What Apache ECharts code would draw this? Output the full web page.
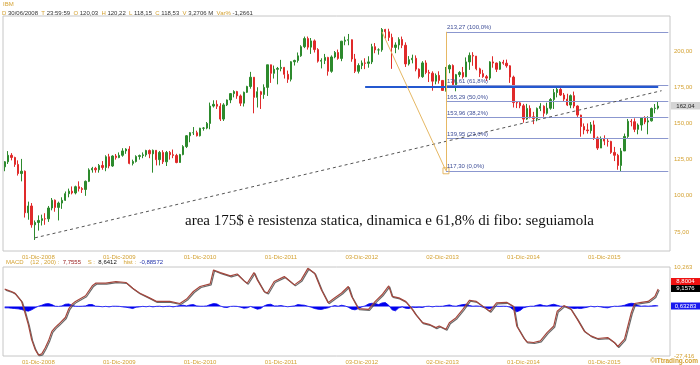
<!DOCTYPE html>
<html><head><meta charset="utf-8">
<script src="https://cdn.jsdelivr.net/npm/echarts@6/dist/echarts.min.js"></script>
<style>html,body{margin:0;padding:0;background:#fff}#c{width:700px;height:365px}</style>
</head><body><div id="c"></div>
<script>
// ---------- DATA ----------
// semi-monthly candles [open, close, low, high], first bar starts 30/06/2008
const ohlc2008 = [
[120,123.5,117,124],[123.5,128,122,130.9],[128,126.5,124.5,129.5],[126.5,121.7,120,127],
[121.7,115.4,114,124.5],[115.4,117,110,125.5],[117,88.3,85,117.5],[88.3,93,83.5,96],
[93,80,78,95],[80,81.6,69.5,83],[81.6,83,76,86.5],[83,84.2,79.5,87]];
const ohlc2009 = [
[84.2,84.1,80,88],[84.1,91.6,82,93],[91.6,97,90,98.5],[97,92,89,97.5],
[92,95,83,96],[95,96.9,91,99],[96.9,101.5,96.5,103],[101.5,103.2,99,105],
[103.2,102,101,106.5],[102,106.3,101,107],[106.3,105,103,110],[105,104.4,102,106],
[104.4,110,100,110.6],[110,117.9,109.5,119],[117.9,119,116,120],[119,118,116,120],
[118,121,116,122],[121,119.6,118,124],[119.6,127,117,128],[127,120.6,119,129],
[120.6,127.5,120,128],[127.5,126.4,125,128.9],[126.4,128,126,130],[128,131,127,132.9]];
const ohlc2010 = [
[131,132.3,129,132.9],[132.3,122.4,121.8,134.3],[122.4,123.7,121,125],[123.7,127.2,123,128],
[127.2,127.8,125,128.5],[127.8,128.3,126,130],[128.3,131.3,127,131.8],[131.3,129,126,132],
[129,131.4,116,132],[131.4,125,121,131.5],[125,130,121,131],[130,123.5,122,131.5],
[123.5,130,120.6,131],[130,128.4,125,131],[128.4,127.9,126,132],[127.9,123,122.5,129],
[123,128.5,123,129],[128.5,134,128,135],[134,141.5,133,142],[141.5,143.6,137,144],
[143.6,143.6,142,147.5],[143.6,141.5,141,145],[141.5,146.7,141,147],[146.7,146.8,145,147.5]];
const ohlc2011 = [
[146.8,150,146,151],[150,162,146,164.4],[162,163.2,161,166],[163.2,161.9,160,166],
[161.9,153,151.7,164],[153,162.8,151.7,164],[162.8,166.2,162,166.5],[166.2,170.6,164,171],
[170.6,172,168,172.9],[172,169,167,172.5],[169,164,162,170],[164,171.5,161.7,172],
[171.5,175.5,171,176],[175.5,181.9,174,185.6],[181.9,168,157,182],[168,171.9,161,175],
[171.9,170,160,172.5],[170,174.9,167,177],[174.9,190.5,169,190.5],[190.5,184.6,178,190.6],
[184.6,187.4,181,190],[187.4,188,177,189],[188,188.7,186,193.9],[188.7,183.9,181,189]];
const ohlc2012 = [
[183.9,180.5,178,186.5],[180.5,192.6,179,193],[192.6,193.5,190,194],[193.5,196.7,192,199],
[196.7,203,196,204],[203,208.6,202,210],[208.6,202.7,201,210],[202.7,207,198,209],
[207,201,199,208],[201,193,192,202],[193,193.5,188,195],[193.5,195.6,191,198],
[195.6,186,183,196],[186,195.9,185,197],[195.9,199,195,200],[199,194.9,194,201],
[194.9,206.8,193,207],[206.8,207.5,204,210],[207.5,207.8,204,211.8],[207.8,194.5,192.6,208],
[194.5,186,184.8,198],[186,190,184.5,191.5],[190,191.8,187.5,193.5],[191.8,191.5,187.5,195]];
const ohlc2013 = [
[191.5,192.5,188.5,196.4],[192.5,203,191,205],[203,200.8,198.5,205.5],[200.8,200.8,197.5,201.9],
[200.8,214.9,199.5,215.9],[214.9,213.3,208.6,215.3],[213.3,209.4,207,215.4],[209.4,202.5,187.7,212],
[202.5,204.2,198.5,206],[204.2,208,201,209.5],[208,204,202,210],[204,191.1,189,206],
[191.1,194,190,196.5],[194,195,191.5,197.5],[195,187.5,186,197],[187.5,182.3,181,188],
[182.3,191.8,181.5,193],[191.8,185.2,184,193.6],[185.2,184.7,178.6,187],[184.7,179.2,172.6,186],
[179.2,183.2,177,184.5],[183.2,179.7,177.5,186],[179.7,172.8,172.6,180],[172.8,187.6,172,189]];
const ohlc2014 = [
[187.6,190,184.7,190.8],[190,176.7,175.5,190.8],[176.7,183.7,172.2,184.2],[183.7,185.2,182,186.1],
[185.2,182.2,181,189],[182.2,192.5,182,195.6],[192.5,197,187,199],[197,196.5,189.8,199.2],
[196.5,187.7,186.7,196.5],[187.7,184.4,182,188.5],[184.4,182.3,181.5,187],[182.3,181.3,179.3,183.5],
[181.3,192.5,180,193],[192.5,191.7,188.5,196.4],[191.7,187.4,185.5,192],[187.4,192.3,187,193],
[192.3,191.6,190.5,193.9],[191.6,189.8,188.5,194.1],[189.8,182,178,190.2],[182,164.4,161,183],
[164.4,164.2,160.6,165.5],[164.2,162.2,160.5,165],[162.2,153,150.5,163.5],[153,160.4,152.5,163.5]];
const ohlc2015 = [
[160.4,154.6,153.5,162.5],[154.6,153.3,149.5,158],[153.3,160.4,151.5,161],[160.4,161.9,158.5,164],
[161.9,157,154.6,162.5],[157,160.5,156,164.3],[160.5,166.5,159.5,167.5],[166.5,171.3,160,173.8],
[171.3,173.5,168,176.3],[173.5,169.6,169,174.4],[169.6,166.8,165.5,171],[166.8,162.7,162,170.5],
[162.7,169.2,160.5,170],[169.2,162,160.5,172],[162,155.8,154.5,162.5],[155.8,147.9,140.8,156],
[147.9,145.5,142.5,150],[145.5,145,143,150],[145,149,143,151],[149,140,138.6,152],
[140,133,131.7,141],[133,139.4,133,141],[139.4,137.8,135,141.8],[137.8,137.6,134,139.8]];
const ohlc2016 = [
[137.6,130,129,138],[130,128,124,133.8],[128,121,118,129],[121,131,116.9,133],
[131,141,131,143],[141,151.5,140,153.1],[151.5,151.2,148,153],[151.2,145.9,144,153.5],
[145.9,148.9,142.5,150],[148.9,153.7,145,154],[153.7,151,149.5,155],[151,151.8,142.5,155],
[151.8,160.3,151.3,161],[160.3,160.6,157,163.4],[160.6,162,159.6,164.9]];

// MACD (12,200) line: [bar index, value]
const macdPoints = [
[0,0.9],[2,-0.1],[3,-0.8],[5,-4.3],[6,-9.0],[7,-14],[8,-20.5],[9,-24.5],[10,-27.0],[11,-26.5],
[12,-24],[13,-21],[14,-17],[15,-15.3],[16,-14.0],[18,-11.1],[19,-7.5],[20,-5.5],[21,-4.3],[24,-1.9],
[26,2.3],[27,3.4],[30,3.4],[33,4.1],[36,3.7],[38,1.3],[40,-0.75],[43,-2.8],[45,-4.3],[49,-4.3],
[52,-5.2],[54,-3.3],[56,-0.1],[58,2.0],[61,3.1],[62,9.0],[64,7.9],[67,6.5],[69,7.3],[71,4.5],
[72,3.4],[74,7.9],[75,4.8],[77,-0.1],[78,-0.75],[80,4.1],[83,6.2],[84,5.1],[86,2.7],[88,4.8],
[90,9.7],[92,7.6],[94,0.6],[96,-4.9],[98,-2.8],[100,-0.75],[102,2.0],[103,-2.2],[105,-7.4],[108,-7.7],
[110,-4.3],[112,-1.5],[114,2.3],[115,-2.2],[117,-2.8],[119,-4.3],[121,-7.7],[122,-9.8],[124,-13.3],[126,-14.0],
[128,-15.4],[129,-14.7],[131,-16.1],[132,-13.3],[134,-11.2],[136,-7.7],[138,-3.8],[140,-4.3],[142,-6.4],[144,-8.5],
[146,-4.9],[149,-4.7],[151,-6.4],[152,-14.7],[154,-19.6],[155,-21.4],[157,-21.7],[159,-21.0],[161,-17.5],[163,-14.7],
[164,-8.5],[166,-6.1],[168,-7.4],[170,-11.9],[172,-16.8],[174,-18.9],[176,-20.0],[179,-19.6],[181,-21.7],[182,-23.4],
[184,-20.3],[186,-9.1],[187,-5.2],[189,-4.7],[191,-4.3],[193,-2.2],[194,0.9]];

// MACD histogram, one value per bar
const histValues = [
-0.2,-0.2,-0.25,-0.3,-0.35,-0.45,-0.6,-0.7,-0.5,-0.2,
0.05,0.2,0.4,0.45,0.3,0.05,0.02,0.1,0.35,0.4,
0.2,0.05,0.03,0.05,0.1,0.3,0.3,0.05,0.03,-0.03,
0.03,-0.05,0.05,0.05,0.03,-0.05,-0.1,-0.2,-0.3,-0.1,
-0.05,0.03,-0.03,0.05,-0.05,0.03,0.05,-0.03,0.03,0.05,
-0.05,0.05,0.15,0.2,0.1,0.25,0.3,0.1,0.05,0.05,
0.1,0.3,0.45,0.4,0.1,-0.1,-0.15,0.02,0.05,0.03,
-0.1,-0.25,-0.2,0.02,-0.2,-0.4,-0.3,0.1,0.3,0.35,
0.1,0.1,0.15,0.05,-0.03,0.03,0.1,0.3,0.25,0.2,
0.05,-0.1,-0.3,-0.4,-0.45,-0.3,-0.2,0.02,0.15,0.05,
0.2,0.1,-0.1,-0.4,-0.5,-0.3,-0.05,0.1,0.4,0.5,
0.45,0.3,0.55,0.6,0.2,-0.5,-0.65,-0.2,-0.05,-0.25,
-0.3,-0.1,-0.15,-0.1,-0.15,0.02,0.05,-0.05,0.05,0.03,
0.05,0.15,0.25,0.1,0.05,0.2,0.3,0.35,0.15,0.05,
0.1,0.05,-0.1,-0.25,-0.3,-0.1,0.05,0.03,0.05,0.03,
-0.1,-0.5,-0.8,-0.6,-0.2,-0.05,0.05,0.05,0.2,0.3,
0.15,0.1,0.25,0.35,0.2,0.05,0.02,-0.1,-0.2,-0.3,
-0.25,-0.3,-0.2,-0.1,0.05,-0.05,0.03,-0.05,-0.15,-0.2,
-0.05,0.05,0.03,0.1,0.2,0.4,0.5,0.45,0.15,0.05,
0.1,0.05,0.1,0.15,0.1];

// axis labels
const priceTicks = [75,100,125,150,175,200];
const macdTicks = [-27.416,10.263];
const tickDates = ['01/12/2008','01/12/2009','01/12/2010','01/12/2011','01/12/2012','01/12/2013','01/12/2014','01/12/2015'];
const tickLabels = ['01-Dic-2008','01-Dic-2009','01-Dic-2010','01-Dic-2011','03-Dic-2012','02-Dic-2013','01-Dic-2014','01-Dic-2015'];

// Fibonacci retracement (bar index anchors, price levels)
const fibLevels = [213.27,176.61,165.29,153.96,139.95,117.30];
const fibPct = ['100,0%','61,8%','50,0%','38,2%','23,6%','0,0%'];
const fibHighIdx = 112, fibLowIdx = 131, fibEndIdx = 197;
const resistance = {fromIdx:107, toIdx:194, value:175};
const trendLine = [[9,71],[195,172.6]];
const lastPrice = '162,04';

// ---------- BUILD ----------
const ohlc = [].concat(ohlc2008,ohlc2009,ohlc2010,ohlc2011,ohlc2012,ohlc2013,ohlc2014,ohlc2015,ohlc2016);
const categories = [];
for (let i = 0; i < 198; i++) {
  const m = 6 + Math.floor(i/2);
  const y = 2008 + Math.floor(m/12);
  const mm = (m%12)+1;
  categories.push((i%2 ? '16' : '01') + '/' + (mm<10?'0':'') + mm + '/' + y);
}
const GOLD = '#d4a233', UP = '#2d8a2d', DOWN = '#e02a2a', FIB = '#8b97cf', TAN = '#e6b864';
const FONT = 'Liberation Sans';
const fmt = (v,d) => v.toFixed(d).replace('.', ',');

const xAxisCfg = (g) => ({
  type:'category', gridIndex:g, data:categories, boundaryGap:true,
  axisLine:{show:false}, axisTick:{show:false}, splitLine:{show:false},
  axisLabel:{
    interval:(idx,val)=>tickDates.indexOf(val)>=0,
    formatter:(val)=>{const k=tickDates.indexOf(val);return k>=0?tickLabels[k]:'';},
    fontSize:6, color:GOLD, margin:3, fontFamily:FONT
  }
});

const mlData = [];
fibLevels.forEach((v,k)=>{
  mlData.push([{coord:[fibLowIdx,v], lineStyle:{color:FIB,width:1,type:'solid'},
    label:{show:true,position:'insideStartTop',distance:1,formatter:fmt(v,2)+' ('+fibPct[k]+')',
      fontSize:6,color:'#3f4f98',fontFamily:FONT}},{coord:[fibEndIdx,v]}]);
});
mlData.push([{coord:[resistance.fromIdx,resistance.value], lineStyle:{color:'#2458cf',width:2,type:'solid'}},
  {coord:[resistance.toIdx,resistance.value]}]);
mlData.push([{coord:trendLine[0], lineStyle:{color:'#555',width:1,type:[3,3]}},{coord:trendLine[1]}]);
mlData.push([{coord:[fibHighIdx,fibLevels[0]], lineStyle:{color:TAN,width:1,type:'solid'}},
  {coord:[fibLowIdx,fibLevels[5]]}]);
mlData.push([{coord:[fibLowIdx,fibLevels[0]], lineStyle:{color:TAN,width:1,type:'solid'}},
  {coord:[fibLowIdx,fibLevels[5]]}]);

const chart = echarts.init(document.getElementById('c'), null, {renderer:'canvas'});
chart.setOption({
  animation:false,
  backgroundColor:'#fff',
  grid:[
    {left:3,right:30,top:16,height:235,show:true,borderColor:'#c6c6c6',borderWidth:1},
    {left:3,right:30,top:267,height:90,show:true,borderColor:'#c6c6c6',borderWidth:1}
  ],
  xAxis:[xAxisCfg(0), xAxisCfg(1)],
  yAxis:[
    {type:'value',gridIndex:0,position:'right',min:61.9,max:224.2,
     axisLine:{show:false},axisTick:{show:false},splitLine:{show:false},
     axisLabel:{customValues:priceTicks,formatter:v=>fmt(v,2),fontSize:6,color:GOLD,margin:4,fontFamily:FONT}},
    {type:'value',gridIndex:1,position:'right',min:macdTicks[0],max:macdTicks[1],
     axisLine:{show:false},axisTick:{show:false},splitLine:{show:false},
     axisLabel:{customValues:macdTicks,formatter:v=>fmt(v,3),fontSize:6,color:GOLD,margin:4,fontFamily:FONT}},
    {type:'value',gridIndex:1,min:-7.5,max:6,show:false}
  ],
  series:[
    {type:'candlestick',xAxisIndex:0,yAxisIndex:0,data:ohlc,barWidth:1.8,
     itemStyle:{color:UP,color0:DOWN,borderColor:UP,borderColor0:DOWN,borderWidth:1},
     markLine:{silent:true,animation:false,symbol:['none','none'],label:{show:false},data:mlData},
     markPoint:{silent:true,animation:false,data:[{coord:[fibLowIdx,fibLevels[5]],symbol:'rect',symbolSize:6,
       itemStyle:{color:'rgba(255,255,255,0)',borderColor:TAN,borderWidth:1},label:{show:false}}]}
    },
    {type:'line',xAxisIndex:1,yAxisIndex:2,data:histValues,symbol:'none',
     lineStyle:{color:'#0000ee',width:0.8},areaStyle:{color:'#0000ee',opacity:1}},
    {type:'line',xAxisIndex:1,yAxisIndex:1,data:macdPoints,symbol:'none',
     lineStyle:{color:'#a4463c',width:1.2,shadowColor:'rgba(80,80,80,0.85)',shadowOffsetX:1,shadowOffsetY:1,shadowBlur:0}}
  ],
  graphic:[
    {type:'text',x:3,y:1,style:{text:'IBM',fill:GOLD,fontSize:6,fontFamily:FONT}},
    {type:'text',x:2,y:10,style:{
      text:'{k|D} {v|30/06/2008}  {k|T} {v|23:59:59}  {k|O} {v|120,03}  {k|H} {v|120,22}  {k|L} {v|118,15}  {k|C} {v|118,53}  {k|V} {v|3,2706 M}  {k|Var%} {v|-1,2661}',
      fontSize:6,fontFamily:FONT,
      rich:{k:{fill:GOLD,fontSize:6,fontFamily:FONT},v:{fill:'#333',fontSize:6,fontFamily:FONT}}}},
    {type:'text',x:6,y:259,style:{
      text:'{k|MACD}    {k|(12 , 200) :}  {r|7,7555}    {k|S :}  {b|8,6412}    {k|hist :}  {u|-0,88572}',
      fontSize:6,fontFamily:FONT,
      rich:{k:{fill:GOLD,fontSize:6,fontFamily:FONT},r:{fill:'#9a2020',fontSize:6,fontFamily:FONT},
            b:{fill:'#111',fontSize:6,fontFamily:FONT},u:{fill:'#2233aa',fontSize:6,fontFamily:FONT}}}},
    {type:'text',x:185,y:221,style:{text:'area 175$ è resistenza statica, dinamica e 61,8% di fibo: seguiamola',
      fill:'#111',fontSize:15,fontFamily:'Liberation Serif',textVerticalAlign:'middle'}},
    {type:'rect',shape:{x:671,y:102,width:29,height:7.5},style:{fill:'#d4d4d4'}},
    {type:'text',x:685.5,y:106,style:{text:lastPrice,fill:'#222',fontSize:6,fontFamily:FONT,textAlign:'center',textVerticalAlign:'middle'}},
    {type:'rect',shape:{x:671,y:278,width:29,height:7},style:{fill:'#ee1111'}},
    {type:'text',x:685.5,y:281.5,style:{text:'8,8004',fill:'#fff',fontSize:6,fontFamily:FONT,textAlign:'center',textVerticalAlign:'middle'}},
    {type:'rect',shape:{x:671,y:285,width:29,height:7},style:{fill:'#000'}},
    {type:'text',x:685.5,y:288.5,style:{text:'9,1576',fill:'#fff',fontSize:6,fontFamily:FONT,textAlign:'center',textVerticalAlign:'middle'}},
    {type:'rect',shape:{x:671,y:302.5,width:29,height:7},style:{fill:'#1a1aee'}},
    {type:'text',x:685.5,y:306,style:{text:'0,63283',fill:'#fff',fontSize:6,fontFamily:FONT,textAlign:'center',textVerticalAlign:'middle'}},
    {type:'text',x:698,y:361.5,style:{text:'©ITtrading.com',fill:GOLD,fontSize:6.5,fontWeight:'bold',fontFamily:FONT,textAlign:'right',textVerticalAlign:'middle'}}
  ]
});
</script></body></html>
